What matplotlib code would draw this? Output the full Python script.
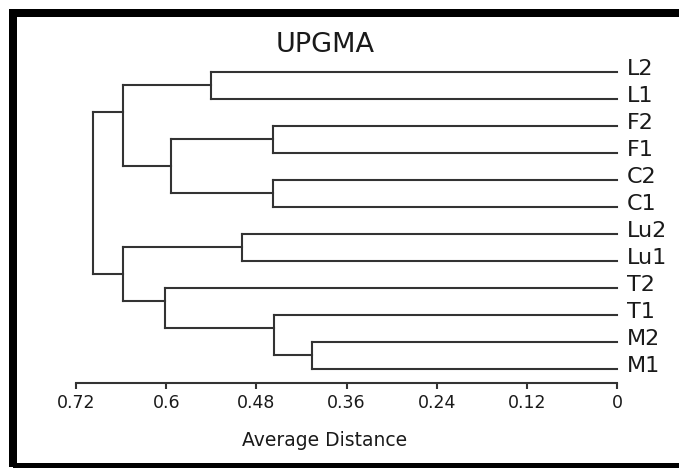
import matplotlib
matplotlib.use("Agg")
import matplotlib.pyplot as plt
from matplotlib.patches import Rectangle

plt.rcParams['font.family'] = ['DejaVu Sans']

# leaves, top to bottom
leaves = ["L2", "L1", "F2", "F1", "C2", "C1", "Lu2", "Lu1", "T2", "T1", "M2", "M1"]

# merges: (child a, child b, average distance); new nodes get ids 12, 13, ...
merges = [
    (0, 1, 0.540),    # 12 L
    (2, 3, 0.458),    # 13 F
    (4, 5, 0.458),    # 14 C
    (13, 14, 0.594),  # 15 F+C
    (12, 15, 0.657),  # 16 L+FC
    (6, 7, 0.499),    # 17 Lu
    (10, 11, 0.406),  # 18 M
    (9, 18, 0.456),   # 19 T1+M
    (8, 19, 0.601),   # 20 T2+T1M
    (17, 20, 0.657),  # 21 Lu+T
    (16, 21, 0.698),  # 22 root
]
# where the parent branch attaches on each vertical (0 = upper child, 1 = lower)
join_frac = [0.5, 0.5, 0.5, 0.5, 1/3, 0.5, 0.5, 1/3, 1/3, 0.5, 0.5]

ticks = [0.72, 0.6, 0.48, 0.36, 0.24, 0.12, 0]
tick_labels = ["0.72", "0.6", "0.48", "0.36", "0.24", "0.12", "0"]

W, H = 679, 468
line_col = "#333333"
text_col = "#1a1a1a"

fig = plt.figure(figsize=(W / 100, H / 100), dpi=100)
ax = fig.add_axes([76 / W, (H - 383) / H, (617.3 - 76) / W, (383 - 71.7) / H])

px = {i: 0.0 for i in range(len(leaves))}
py = {i: float(i) for i in range(len(leaves))}
kw = dict(color=line_col, lw=1.5, solid_capstyle="projecting", clip_on=False)
for k, (a, b, h) in enumerate(merges):
    node = len(leaves) + k
    ax.plot([px[a], h], [py[a], py[a]], **kw)
    ax.plot([px[b], h], [py[b], py[b]], **kw)
    ax.plot([h, h], [py[a], py[b]], **kw)
    px[node] = h
    py[node] = py[a] + join_frac[k] * (py[b] - py[a])

for i, name in enumerate(leaves):
    ax.annotate(name, xy=(0, i), xytext=(7, -2.4), textcoords="offset points",
                ha="left", va="baseline", fontsize=16, color=text_col,
                annotation_clip=False)

ax.set_xlim(0.72, 0)
ax.set_ylim(11 + 14 / 27.03, 0)
for s in ["left", "right", "top"]:
    ax.spines[s].set_visible(False)
ax.spines["bottom"].set_bounds(0, 0.72)
ax.spines["bottom"].set_color(line_col)
ax.spines["bottom"].set_linewidth(1.5)
ax.set_yticks([])
ax.set_xticks(ticks)
ax.set_xticklabels(tick_labels)
ax.tick_params(axis="x", direction="out", length=4, width=1.5, color=line_col,
               labelsize=12.5, labelcolor=text_col, pad=4)

fig.text(325.6 / W, 1 - 51.7 / H, "UPGMA", ha="center", va="baseline",
         fontsize=19.5, color=text_col)
fig.text(325 / W, 1 - 446 / H, "Average Distance", ha="center", va="baseline",
         fontsize=13.5, color=text_col)

# thick black frame around the figure
fig.patches.append(Rectangle((13 / W, 1 / H), 700 / W, (467 - 13) / H,
                             transform=fig.transFigure, fill=False,
                             edgecolor="black", lw=8 * 0.72))

fig.savefig("out.png", dpi=100)
